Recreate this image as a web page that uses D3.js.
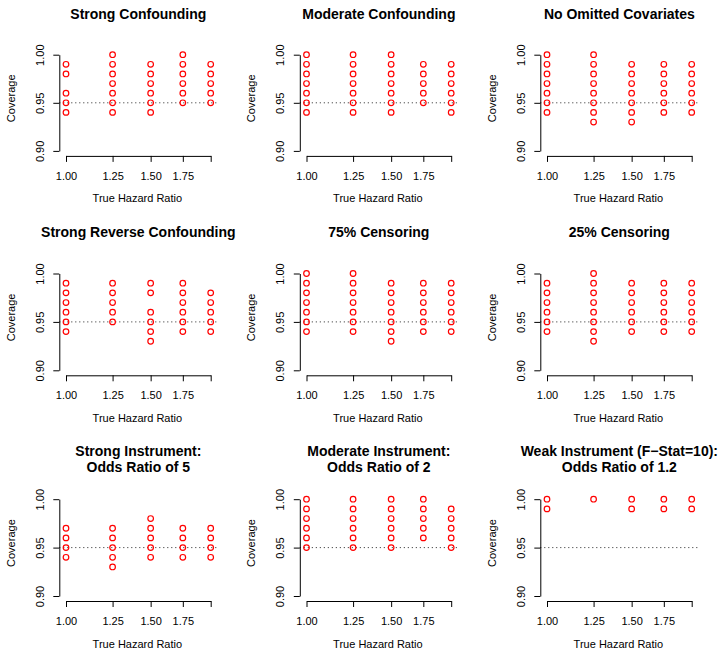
<!DOCTYPE html>
<html>
<head>
<meta charset="utf-8">
<script src="https://cdn.jsdelivr.net/npm/d3@7"></script>
<style>
  html, body { margin: 0; padding: 0; background: #fff; }
  svg { display: block; }
  text { font-family: "Liberation Sans", Arial, Helvetica, sans-serif; fill: #000; }
</style>
</head>
<body>
<svg id="chart" width="724" height="653"></svg>
<script>
// ---------- Data ----------
const hazardRatios = [1.00, 1.25, 1.50, 1.75, 2.00];
const xTickLabels = ["1.00", "1.25", "1.50", "1.75", ""];
const yTickValues = [0.90, 0.95, 1.00];
const yTickLabels = ["0.90", "0.95", "1.00"];
const referenceCoverage = 0.95;

const panelTitles = [
  ["Strong Confounding"],
  ["Moderate Confounding"],
  ["No Omitted Covariates"],
  ["Strong Reverse Confounding"],
  ["75% Censoring"],
  ["25% Censoring"],
  ["Strong Instrument:", "Odds Ratio of 5"],
  ["Moderate Instrument:", "Odds Ratio of 2"],
  ["Weak Instrument (F\u2212Stat=10):", "Odds Ratio of 1.2"]
];

// coverage values observed at each true hazard ratio (1.00, 1.25, 1.50, 1.75, 2.00)
const strongConfounding = [
  [0.99, 0.98, 0.96, 0.95, 0.94],
  [1.00, 0.99, 0.98, 0.97, 0.96, 0.95, 0.94],
  [0.99, 0.98, 0.97, 0.96, 0.95, 0.94],
  [1.00, 0.99, 0.98, 0.97, 0.96, 0.95],
  [0.99, 0.98, 0.97, 0.96, 0.95]
];
const moderateConfounding = [
  [1.00, 0.99, 0.98, 0.97, 0.96, 0.95, 0.94],
  [1.00, 0.99, 0.98, 0.97, 0.96, 0.95, 0.94],
  [1.00, 0.99, 0.98, 0.97, 0.96, 0.95, 0.94],
  [0.99, 0.98, 0.97, 0.96, 0.95],
  [0.99, 0.98, 0.97, 0.96, 0.95, 0.94]
];
const noOmittedCovariates = [
  [1.00, 0.99, 0.98, 0.97, 0.96, 0.95, 0.94],
  [1.00, 0.99, 0.98, 0.97, 0.96, 0.95, 0.94, 0.93],
  [0.99, 0.98, 0.97, 0.96, 0.95, 0.94, 0.93],
  [0.99, 0.98, 0.97, 0.96, 0.95, 0.94],
  [0.99, 0.98, 0.97, 0.96, 0.95, 0.94]
];
const strongReverseConfounding = [
  [0.99, 0.98, 0.97, 0.96, 0.95, 0.94],
  [0.99, 0.98, 0.97, 0.96, 0.95],
  [0.99, 0.98, 0.96, 0.95, 0.94, 0.93],
  [0.99, 0.98, 0.97, 0.96, 0.95, 0.94],
  [0.98, 0.97, 0.96, 0.95, 0.94]
];
const censoring75 = [
  [1.00, 0.99, 0.98, 0.97, 0.96, 0.95, 0.94],
  [1.00, 0.99, 0.98, 0.97, 0.96, 0.95, 0.94],
  [0.99, 0.98, 0.97, 0.96, 0.95, 0.94, 0.93],
  [0.99, 0.98, 0.97, 0.96, 0.95, 0.94],
  [0.99, 0.98, 0.97, 0.96, 0.95, 0.94]
];
const censoring25 = [
  [0.99, 0.98, 0.97, 0.96, 0.95, 0.94],
  [1.00, 0.99, 0.98, 0.97, 0.96, 0.95, 0.94, 0.93],
  [0.99, 0.98, 0.97, 0.96, 0.95, 0.94],
  [0.99, 0.98, 0.97, 0.96, 0.95, 0.94],
  [0.99, 0.98, 0.97, 0.96, 0.95, 0.94]
];
const strongInstrument = [
  [0.97, 0.96, 0.95, 0.94],
  [0.97, 0.96, 0.95, 0.94, 0.93],
  [0.98, 0.97, 0.96, 0.95, 0.94],
  [0.97, 0.96, 0.95, 0.94],
  [0.97, 0.96, 0.95, 0.94]
];
const moderateInstrument = [
  [1.00, 0.99, 0.98, 0.97, 0.96, 0.95],
  [1.00, 0.99, 0.98, 0.97, 0.96, 0.95],
  [1.00, 0.99, 0.98, 0.97, 0.96, 0.95],
  [1.00, 0.99, 0.98, 0.97, 0.96],
  [0.99, 0.98, 0.97, 0.96, 0.95]
];
const weakInstrument = [
  [1.00, 0.99],
  [1.00],
  [1.00, 0.99],
  [1.00, 0.99],
  [1.00, 0.99]
];

const panelCoverage = [
  strongConfounding, moderateConfounding, noOmittedCovariates,
  strongReverseConfounding, censoring75, censoring25,
  strongInstrument, moderateInstrument, weakInstrument
];

// ---------- Layout ----------
const colStep = 240.5;
const xFirst = 66, xLast = 210.7;       // pixel of HR 1.00 and 2.00 in column 0
const rowTop = [54.7, 273.5, 499.2];     // pixel of coverage 1.00
const rowBottom = [150.9, 370.3, 596.0]; // pixel of coverage 0.90
const rowTitleBaseline = [18.5, 236.7, 455.7];
const fontFamily = '"Liberation Sans", Arial, Helvetica, sans-serif';

const svg = d3.select("#chart");

panelCoverage.forEach((cov, i) => {
  const col = i % 3, row = Math.floor(i / 3);
  const off = col * colStep;
  const x = d3.scaleLog().domain([1, 2]).range([xFirst + off, xLast + off]);
  const y = d3.scaleLinear().domain([0.90, 1.00]).range([rowBottom[row], rowTop[row]]);

  const plotLeft = x.range()[0] - 6.7;
  const plotRight = x.range()[1] + 6.7;
  const axisY = y.range()[0] + 5;
  const g = svg.append("g");

  // title
  const t = g.append("text")
    .attr("x", (plotLeft + plotRight) / 2)
    .attr("y", rowTitleBaseline[row])
    .attr("text-anchor", "middle")
    .style("font-size", "14px")
    .style("font-weight", "bold");
  panelTitles[i].forEach((line, k) => {
    t.append("tspan").attr("x", (plotLeft + plotRight) / 2).attr("dy", k === 0 ? 0 : 16).text(line);
  });

  // reference line
  g.append("line")
    .attr("x1", plotLeft).attr("x2", plotRight)
    .attr("y1", y(referenceCoverage)).attr("y2", y(referenceCoverage))
    .attr("stroke", "#222").attr("stroke-width", 1)
    .attr("stroke-dasharray", "1,3");

  // x axis
  const xa = g.append("g")
    .attr("transform", `translate(0,${axisY})`)
    .call(d3.axisBottom(x).tickValues(hazardRatios)
      .tickFormat((d, k) => xTickLabels[k]).tickSize(6).tickSizeOuter(0).tickPadding(10));
  xa.selectAll("path, line").attr("stroke", "#000");
  xa.selectAll("text").style("font-size", "11px").style("font-family", fontFamily).attr("fill", "#000");

  // y axis
  const ya = g.append("g")
    .attr("transform", `translate(${plotLeft},0)`)
    .call(d3.axisLeft(y).tickValues(yTickValues)
      .tickFormat((d, k) => yTickLabels[k]).tickSize(6).tickSizeOuter(0));
  ya.selectAll("path, line").attr("stroke", "#000");
  ya.selectAll("text")
    .attr("transform", "rotate(-90)")
    .attr("x", 0).attr("y", -15.8).attr("dy", 0)
    .attr("text-anchor", "middle")
    .style("font-size", "11px").style("font-family", fontFamily).attr("fill", "#000");

  // axis titles
  g.append("text")
    .attr("x", (plotLeft + plotRight) / 2 - 1)
    .attr("y", axisY + 46.5)
    .attr("text-anchor", "middle")
    .style("font-size", "11px")
    .text("True Hazard Ratio");
  const ymid = (y.range()[0] + y.range()[1]) / 2 - 4.5;
  g.append("text")
    .attr("transform", `translate(${plotLeft - 44.5},${ymid}) rotate(-90)`)
    .attr("text-anchor", "middle")
    .style("font-size", "11px")
    .text("Coverage");

  // points
  const pts = [];
  cov.forEach((vals, k) => vals.forEach(v => pts.push({ hr: hazardRatios[k], v })));
  g.selectAll("circle").data(pts).join("circle")
    .attr("cx", d => x(d.hr))
    .attr("cy", d => y(d.v))
    .attr("r", 2.8)
    .attr("fill", "none")
    .attr("stroke", "#ff0000")
    .attr("stroke-width", 1.2);
});
</script>
</body>
</html>
